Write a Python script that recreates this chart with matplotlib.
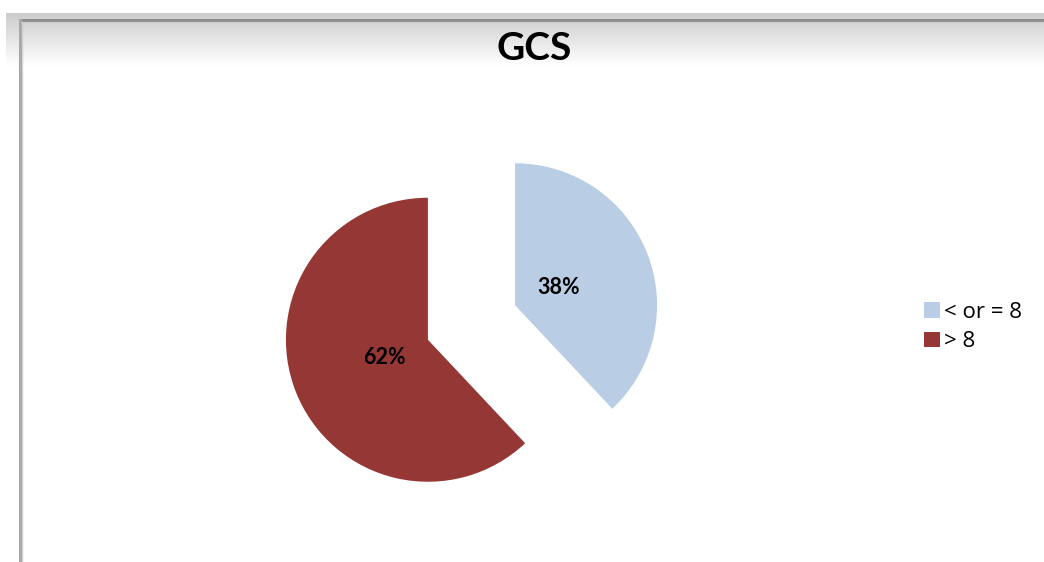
import numpy as np
import matplotlib
matplotlib.use("Agg")
import matplotlib.pyplot as plt
from matplotlib.lines import Line2D

title = "GCS"
categories = ["< or = 8", "> 8"]
values = [38, 62]
colors = ["#B9CDE5", "#953735"]

W, H = 1044, 562
fig = plt.figure(figsize=(W / 100, H / 100), dpi=100)

# background with gradient frame
bg = fig.add_axes([0, 0, 1, 1])
bg.set_xlim(0, W)
bg.set_ylim(H, 0)
bg.axis("off")
grad = np.linspace(0.80, 1.0, 64)[:, None] * np.ones((1, 2))
bg.imshow(np.dstack([grad, grad, grad]), extent=(6, W, 66, 13), aspect="auto",
          interpolation="bilinear", zorder=0)
bg.add_line(Line2D([20, W], [20, 20], color="#8c8c8c", lw=2.2, zorder=2))
bg.add_line(Line2D([20, 20], [20, H], color="#a8a8a8", lw=2.2, zorder=2))
bg.add_line(Line2D([21.5, W], [21.5, 21.5], color="#c8c8c8", lw=1, zorder=2))
bg.add_line(Line2D([21.5, 21.5], [21.5, H], color="#d0d0d0", lw=1, zorder=2))

bg.text(534, 49, title, ha="center", va="center", fontsize=28,
        fontweight="bold", family=["Lato", "DejaVu Sans"], zorder=3)

# pie axes: centre at (471.5, 322.5) px, radius 142 px
cx, cy, r = 471.5, 322.5, 142
side = 3 * r
ax = fig.add_axes([(cx - side / 2) / W, (H - cy - side / 2) / H, side / W, side / H])
wedges, texts, autotexts = ax.pie(
    values, colors=colors, startangle=90, counterclock=False,
    explode=[0.33, 0.33], autopct="%1.0f%%", pctdistance=0.33,
    wedgeprops=dict(linewidth=0),
    textprops=dict(fontsize=15.5, fontweight="bold", family=["Lato", "DejaVu Sans"]))
ax.set_xlim(-1.5, 1.5)
ax.set_ylim(-1.5, 1.5)
ax.set_aspect("equal")
ax.axis("off")

leg = fig.legend(wedges, categories, loc="upper left",
                 bbox_to_anchor=(904 / W, 1 - 282 / H), frameon=False,
                 handlelength=0.7, handleheight=0.7,
                 handletextpad=0.2, labelspacing=0.38,
                 prop=dict(family=["Open Sans", "DejaVu Sans"], size=16))
fig.savefig("out.png", dpi=100)
